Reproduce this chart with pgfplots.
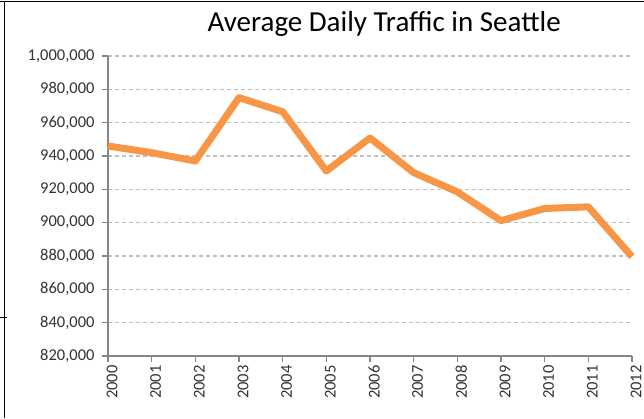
\documentclass[border=0pt]{standalone}
\usepackage{fontspec}
\setmainfont{Carlito}
\usepackage{pgfplots}
\pgfplotsset{compat=1.18}

\definecolor{lineorange}{HTML}{F79646}
\definecolor{axisgray}{HTML}{868686}
\definecolor{gridgray}{HTML}{BFBFBF}
\definecolor{labelgray}{HTML}{333333}

\begin{document}
\begin{tikzpicture}[x=1pt,y=1pt]
\useasboundingbox (0,0) rectangle (644,418);
% frame of the screenshot
\draw[line width=1.2pt] (0,416.5) -- (644,416.5);
\draw[line width=1pt] (4.5,0) -- (4.5,416.5);
\draw[line width=1pt] (0,101) -- (7,101);

\begin{axis}[
    at={(108pt,62pt)}, anchor=south west,
    scale only axis,
    width=524pt, height=300pt,
    xmin=2000, xmax=2012,
    ymin=820000, ymax=1000000,
    xtick={2000,2001,...,2012},
    ytick={820000,840000,...,1000000},
    axis x line*=bottom, axis y line*=left,
    axis line style={axisgray, line width=1.2pt},
    x axis line style={-}, y axis line style={-},
    tick align=outside,
    major tick length=6pt,
    tick style={axisgray, line width=1.2pt},
    ymajorgrids,
    major grid style={gridgray, line width=1.2pt, dash pattern=on 4pt off 3pt},
    scaled y ticks=false,
    yticklabel style={xshift=-4pt, /pgf/number format/.cd, fixed, 1000 sep={,}, assume math mode=true},
    xticklabel style={rotate=90, anchor=east, yshift=-4pt, /pgf/number format/.cd, 1000 sep={}, assume math mode=true},
    ticklabel style={font=\fontsize{16.5}{18}\selectfont, text=labelgray},
    title={Average Daily Traffic in Seattle},
    title style={font=\fontsize{29}{32}\selectfont, at={(0.527,1)}, anchor=south, yshift=10pt},
    clip=false,
]
\addplot[lineorange, line width=7pt, line join=round] coordinates {
    (2000, 946000) (2001, 942000) (2002, 937000) (2003, 975000)
    (2004, 966600) (2005, 931000) (2006, 950800) (2007, 930000)
    (2008, 918500) (2009, 901200) (2010, 908500) (2011, 909500)
    (2012, 879600)
};
\end{axis}
\end{tikzpicture}
\end{document}
